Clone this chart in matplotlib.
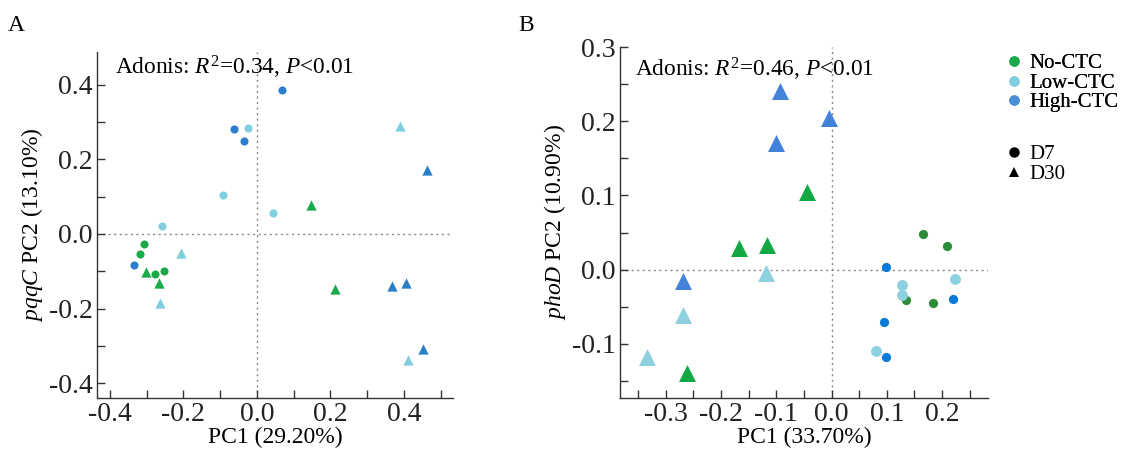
import matplotlib
matplotlib.use("Agg")
import matplotlib.pyplot as plt
from matplotlib.lines import Line2D
from matplotlib.ticker import MultipleLocator, FormatStrFormatter

plt.rcParams['font.family'] = ['Liberation Serif', 'DejaVu Serif']
plt.rcParams['mathtext.fontset'] = 'custom'
plt.rcParams['mathtext.rm'] = 'Liberation Serif'
plt.rcParams['mathtext.it'] = 'Liberation Serif:italic'

groups = ["No-CTC", "Low-CTC", "High-CTC"]
days = ["D7", "D30"]

# Panel A (pqqC)
a_no_d7_x = [-0.306, -0.317, -0.276, -0.254]
a_no_d7_y = [-0.027, -0.053, -0.107, -0.098]
a_low_d7_x = [-0.023, -0.091, 0.045, -0.257]
a_low_d7_y = [0.284, 0.103, 0.055, 0.020]
a_high_d7_x = [0.068, -0.063, -0.034, -0.334]
a_high_d7_y = [0.384, 0.281, 0.248, -0.084]
a_no_d30_x = [-0.303, -0.266, 0.147, 0.211]
a_no_d30_y = [-0.102, -0.131, 0.077, -0.146]
a_low_d30_x = [-0.265, -0.206, 0.390, 0.410]
a_low_d30_y = [-0.186, -0.051, 0.288, -0.336]
a_high_d30_x = [0.463, 0.367, 0.406, 0.452]
a_high_d30_y = [0.170, -0.138, -0.131, -0.308]

# Panel B (phoD)
b_no_d7_x = [0.166, 0.208, 0.134, 0.184]
b_no_d7_y = [0.048, 0.032, -0.041, -0.045]
b_low_d7_x = [0.128, 0.128, 0.223, 0.080]
b_low_d7_y = [-0.021, -0.034, -0.013, -0.110]
b_high_d7_x = [0.098, 0.219, 0.095, 0.098]
b_high_d7_y = [0.003, -0.040, -0.070, -0.118]
b_no_d30_x = [-0.044, -0.167, -0.117, -0.261]
b_no_d30_y = [0.105, 0.029, 0.033, -0.139]
b_low_d30_x = [-0.119, -0.268, -0.334]
b_low_d30_y = [-0.004, -0.061, -0.118]
b_high_d30_x = [-0.093, -0.004, -0.101, -0.268]
b_high_d30_y = [0.2405, 0.204, 0.170, -0.016]

a_colors = {"no": "#1aaa4a", "low": "#80cfe0", "high_c": "#2a7ed0", "high_t": "#2a80c8"}
b_colors = {"no_c": "#2e8b3a", "no_t": "#12a844", "low": "#8fd0e0", "high_c": "#0a7ad8", "high_t": "#4282d8"}

fig = plt.figure(figsize=(11.35, 4.55), dpi=100)
axA = fig.add_axes([0.0855, 0.1253, 0.3135, 0.7604])
axB = fig.add_axes([0.5463, 0.1253, 0.3242, 0.7714])

def style(ax):
    for s in ["top", "right"]:
        ax.spines[s].set_visible(False)
    for s in ["left", "bottom"]:
        ax.spines[s].set_color("#333333")
        ax.spines[s].set_linewidth(1.0)
    ax.tick_params(which="both", direction="in", colors="#333333", labelcolor="#222222", labelsize=20, width=1.0)
    ax.tick_params(which="major", length=6, pad=3)
    ax.tick_params(which="minor", length=6)
    ax.axhline(0, color="#888888", linestyle=(0, (1.5, 2.5)), linewidth=1.0, zorder=1)
    ax.axvline(0, color="#888888", linestyle=(0, (1.5, 2.5)), linewidth=1.0, zorder=1)

style(axA)
sc, st = 34, 55
axA.scatter(a_no_d7_x, a_no_d7_y, s=sc, marker="o", color=a_colors["no"], lw=0, zorder=3)
axA.scatter(a_low_d7_x, a_low_d7_y, s=sc, marker="o", color=a_colors["low"], lw=0, zorder=3)
axA.scatter(a_high_d7_x, a_high_d7_y, s=sc, marker="o", color=a_colors["high_c"], lw=0, zorder=3)
axA.scatter(a_no_d30_x, a_no_d30_y, s=st, marker="^", color=a_colors["no"], lw=0, zorder=4)
axA.scatter(a_low_d30_x, a_low_d30_y, s=st, marker="^", color=a_colors["low"], lw=0, zorder=4)
axA.scatter(a_high_d30_x, a_high_d30_y, s=st, marker="^", color=a_colors["high_t"], lw=0, zorder=4)
axA.set_xlim(-0.435, 0.533)
axA.set_ylim(-0.439, 0.487)
axA.xaxis.set_major_locator(MultipleLocator(0.2))
axA.xaxis.set_minor_locator(MultipleLocator(0.1))
axA.yaxis.set_major_locator(MultipleLocator(0.2))
axA.yaxis.set_minor_locator(MultipleLocator(0.1))
axA.xaxis.set_major_formatter(FormatStrFormatter("%.1f"))
axA.yaxis.set_major_formatter(FormatStrFormatter("%.1f"))
axA.set_xlabel("PC1 (29.20%)", fontsize=17, labelpad=0)
axA.set_ylabel(r"$\it{pqqC}$ PC2 (13.10%)", fontsize=17, labelpad=3)
axA.text(0.05, 0.995, r"Adonis: $\it{R}^2$=0.34, $\it{P}$<0.01", transform=axA.transAxes,
         fontsize=16.8, va="top", ha="left")

style(axB)
sbc, sbt = 44, 150
axB.scatter(b_no_d7_x, b_no_d7_y, s=sbc, marker="o", color=b_colors["no_c"], lw=0, zorder=3)
axB.scatter(b_low_d7_x, b_low_d7_y, s=sbc * 1.4, marker="o", color=b_colors["low"], lw=0, zorder=3)
axB.scatter(b_high_d7_x, b_high_d7_y, s=sbc, marker="o", color=b_colors["high_c"], lw=0, zorder=3)
axB.scatter(b_no_d30_x, b_no_d30_y, s=sbt, marker="^", color=b_colors["no_t"], lw=0, zorder=4)
axB.scatter(b_low_d30_x, b_low_d30_y, s=sbt, marker="^", color=b_colors["low"], lw=0, zorder=4)
axB.scatter(b_high_d30_x, b_high_d30_y, s=sbt, marker="^", color=b_colors["high_t"], lw=0, zorder=4)
axB.set_xlim(-0.3825, 0.283)
axB.set_ylim(-0.173, 0.3)
axB.xaxis.set_major_locator(MultipleLocator(0.1))
axB.xaxis.set_minor_locator(MultipleLocator(0.05))
axB.yaxis.set_major_locator(MultipleLocator(0.1))
axB.yaxis.set_minor_locator(MultipleLocator(0.05))
axB.xaxis.set_major_formatter(FormatStrFormatter("%.1f"))
axB.yaxis.set_major_formatter(FormatStrFormatter("%.1f"))
axB.set_xlabel("PC1 (33.70%)", fontsize=17, labelpad=0)
axB.set_ylabel(r"$\it{phoD}$ PC2 (10.90%)", fontsize=17, labelpad=3)
axB.text(0.04, 0.975, r"Adonis: $\it{R}^2$=0.46, $\it{P}$<0.01", transform=axB.transAxes,
         fontsize=16.8, va="top", ha="left")

fig.text(0.007, 0.945, "A", fontsize=17, va="center", ha="left")
fig.text(0.457, 0.945, "B", fontsize=17, va="center", ha="left")

leg_colors = [a_colors["no"], a_colors["low"], "#4a8ed8"]
h1 = [Line2D([], [], marker="o", linestyle="none", markersize=7.5, color=c, markeredgewidth=0) for c in leg_colors]
leg1 = fig.legend(h1, groups, loc="upper left", bbox_to_anchor=(0.887, 0.882), frameon=False,
                  fontsize=15, handlelength=0.7, handletextpad=0.4, labelspacing=0.0, borderpad=0,
                  borderaxespad=0)
fig.add_artist(leg1)
h2 = [Line2D([], [], marker=m, linestyle="none", markersize=7.5, color="black", markeredgewidth=0) for m in ["o", "^"]]
leg2 = fig.legend(h2, days, loc="upper left", bbox_to_anchor=(0.887, 0.682), frameon=False,
                  fontsize=15, handlelength=0.7, handletextpad=0.4, labelspacing=0.0, borderpad=0,
                  borderaxespad=0)

fig.savefig("out.png", dpi=100)
